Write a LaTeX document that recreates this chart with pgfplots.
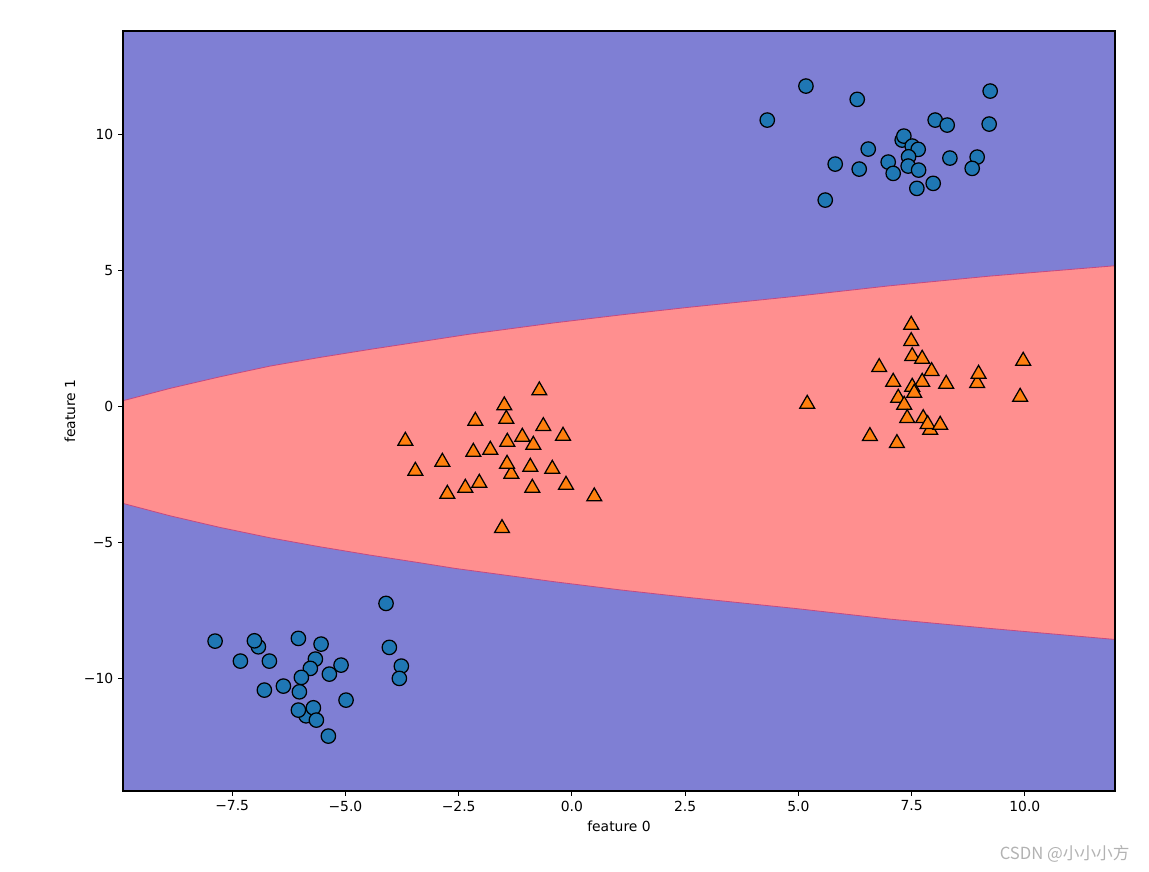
\documentclass[border=0pt]{standalone}
\usepackage{fontspec}
\setmainfont{DejaVu Sans}
\newfontfamily\cjk{Noto Sans CJK SC}
\usepackage{pgfplots}
\pgfplotsset{compat=1.18}

\definecolor{bgblue}{RGB}{127,127,212}
\definecolor{bgred}{RGB}{255,143,143}
\definecolor{edgecol}{RGB}{196,74,130}
\definecolor{cblue}{RGB}{31,119,180}
\definecolor{corange}{RGB}{255,127,14}

\begin{document}
\begin{tikzpicture}
% canvas, 1 px of the reference = 0.72pt
\path (-88.56pt,-58.32pt) rectangle (738.72pt,569.52pt);
\begin{axis}[
    at={(0pt,0pt)}, anchor=south west,
    scale only axis, width=714.24pt, height=547.2pt,
    xmin=-9.91, xmax=11.99, ymin=-14.15, ymax=13.79,
    axis background/.style={fill=bgblue},
    xtick={-7.5,-5,-2.5,0,2.5,5,7.5,10},
    xticklabels={−7.5,−5.0,−2.5,0.0,2.5,5.0,7.5,10.0},
    ytick={-10,-5,0,5,10},
    yticklabels={−10,−5,0,5,10},
    tick pos=left,
    tick align=outside,
    major tick length=3.5pt,
    tick style={line width=0.8pt, black},
    axis line style={line width=0.8pt},
    tick label style={font=\fontsize{10}{12}\selectfont},
    label style={font=\fontsize{10}{12}\selectfont},
    xlabel={feature 0}, ylabel={feature 1},
    xlabel style={at={(axis description cs:0.5,-0.046)}, anchor=center},
    ylabel style={at={(axis description cs:-0.0535,0.5)}, anchor=center},
    axis on top,
]

% decision region (class 1)
\addplot[fill=bgred, draw=none] coordinates {
    (-9.95,0.18) (-8.872,0.651) (-7.769,1.077) (-6.663,1.471) (-5.560,1.790)
    (-4.456,2.085) (-3.353,2.364) (-2.293,2.636) (-0.373,3.063) (1.106,3.357)
    (2.562,3.629) (4.924,4.033) (7.019,4.423) (9.226,4.779) (12.03,5.165)
    (12.03,-8.585) (9.226,-8.173) (7.019,-7.831) (4.924,-7.438) (2.562,-7.033)
    (1.106,-6.765) (-0.373,-6.460) (-2.580,-5.967) (-3.353,-5.761) (-4.456,-5.478)
    (-5.560,-5.173) (-6.663,-4.842) (-7.769,-4.460) (-8.872,-4.033) (-9.95,-3.56)
} -- cycle;
\addplot[edgecol, line width=0.6pt] coordinates {
    (-9.95,0.18) (-8.872,0.651) (-7.769,1.077) (-6.663,1.471) (-5.560,1.790)
    (-4.456,2.085) (-3.353,2.364) (-2.293,2.636) (-0.373,3.063) (1.106,3.357)
    (2.562,3.629) (4.924,4.033) (7.019,4.423) (9.226,4.779) (12.03,5.165)
};
\addplot[edgecol, line width=0.6pt] coordinates {
    (12.03,-8.585) (9.226,-8.173) (7.019,-7.831) (4.924,-7.438) (2.562,-7.033)
    (1.106,-6.765) (-0.373,-6.460) (-2.580,-5.967) (-3.353,-5.761) (-4.456,-5.478)
    (-5.560,-5.173) (-6.663,-4.842) (-7.769,-4.460) (-8.872,-4.033) (-9.95,-3.56)
};

% class 0
\addplot[only marks, mark=*, mark size=5.2pt,
    mark options={draw=black, fill=cblue, line width=0.9pt}] coordinates {
    (5.167,11.765) (6.299,11.276) (4.313,10.515) (9.234,11.581) (8.020,10.515)
    (8.285,10.331) (9.212,10.368) (7.292,9.779) (7.329,9.926) (7.513,9.559)
    (7.645,9.438) (6.542,9.449) (5.813,8.897) (6.343,8.713) (6.983,8.971)
    (7.433,9.165) (7.424,8.824) (7.093,8.555) (7.654,8.676) (8.345,9.118)
    (8.947,9.154) (8.837,8.739) (7.976,8.188) (7.616,8.004) (5.593,7.574)
    (-4.103,-7.254) (-7.877,-8.640) (-6.921,-8.849) (-7.009,-8.629) (-6.038,-8.540)
    (-5.537,-8.750) (-4.030,-8.871) (-7.318,-9.375) (-6.678,-9.375) (-5.663,-9.301)
    (-5.774,-9.643) (-5.096,-9.522) (-5.354,-9.853) (-5.972,-9.974) (-3.765,-9.559)
    (-3.809,-10.011) (-6.789,-10.441) (-6.369,-10.294) (-6.016,-10.504) (-4.986,-10.809)
    (-5.868,-11.386) (-6.038,-11.176) (-5.707,-11.092) (-5.641,-11.544) (-5.376,-12.132)
};

% class 1
\addplot[only marks, mark=triangle*, mark size=6.2pt,
    mark options={draw=black, fill=corange, line width=0.9pt, yshift=-1.55pt}] coordinates {
    (-0.719,0.651) (-1.492,0.099) (-1.448,-0.393) (-2.132,-0.467) (-0.631,-0.662)
    (-0.196,-1.018) (-3.677,-1.202) (-1.095,-1.055) (-1.426,-1.239) (-0.852,-1.349)
    (-1.801,-1.533) (-2.176,-1.607) (-2.860,-1.974) (-1.337,-2.415) (-1.432,-2.048)
    (-0.918,-2.158) (-0.433,-2.232) (-3.456,-2.305) (-2.044,-2.746) (-2.353,-2.930)
    (-0.130,-2.820) (-0.874,-2.930) (-2.750,-3.151) (0.494,-3.246) (-1.543,-4.412)
    (7.491,3.063) (7.491,2.463) (7.513,1.912) (7.733,1.813) (6.784,1.507)
    (7.941,1.360) (9.963,1.739) (8.947,0.919) (8.978,1.261) (7.093,0.967)
    (7.733,0.967) (7.513,0.783) (7.557,0.563) (8.263,0.893) (7.204,0.379)
    (7.336,0.121) (5.195,0.158) (9.896,0.415) (7.402,-0.368) (7.756,-0.368)
    (7.910,-0.798) (7.853,-0.588) (8.131,-0.614) (6.579,-1.029) (7.175,-1.287)
};
\end{axis}
\node[text=black!30, font=\cjk\fontsize{12}{14}\selectfont] at (678pt,-45.4pt) {CSDN @小小小方};
\end{tikzpicture}
\end{document}
